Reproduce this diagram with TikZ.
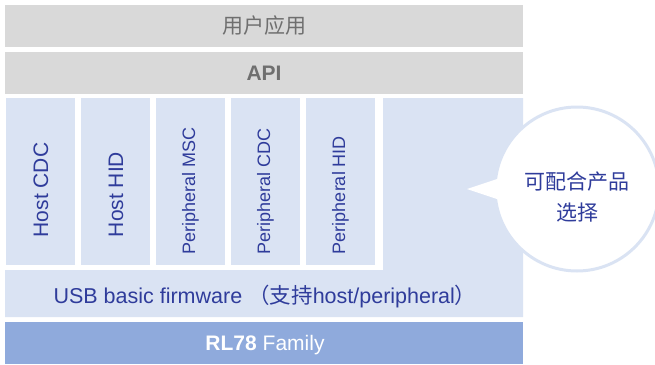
\documentclass[tikz,border=0pt]{standalone}
\usepackage{fontspec}
\setmainfont{Liberation Sans}
\newfontfamily\cjk{Noto Sans CJK SC}
\usetikzlibrary{positioning}

\definecolor{bargrey}{HTML}{D9D9D9}
\definecolor{greytext}{HTML}{6F6F6F}
\definecolor{paleblue}{HTML}{DAE3F3}
\definecolor{midblue}{HTML}{8FAADC}
\definecolor{inkblue}{HTML}{2F3C9B}

\tikzset{
	bar/.style={minimum width=518pt, minimum height=42pt, inner sep=0pt, font=\fontsize{21}{25}\selectfont},
	greybar/.style={bar, fill=bargrey, text=greytext},
	module/.style={fill=paleblue, minimum width=69pt, minimum height=167pt, inner sep=0pt},
	modlabel/.style={rotate=90, text=inkblue, inner sep=0pt},
}

\begin{document}
\begin{tikzpicture}[x=1pt, y=-1pt]
			%%%%% START %%%%%
			\useasboundingbox (0, 0) rectangle (655, 364);
			
			\node[greybar] (app) at (264, 26) {\cjk 用户应用};
			\node[greybar] (api) at (264, 73) {\bfseries API};
			
			% stack of class drivers
			\node[module] (hcdc) at (40.5, 181.5) {};
			\node[module] (hhid) at (115.5, 181.5) {};
			\node[module] (pmsc) at (190.5, 181.5) {};
			\node[module] (pcdc) at (265.5, 181.5) {};
			\node[module] (phid) at (340.5, 181.5) {};
			
			\node[modlabel, font=\fontsize{21}{25}\selectfont] (hcdctext) at (41, 190) {Host CDC};
			\node[modlabel, font=\fontsize{21}{25}\selectfont] (hhidtext) at (116, 194.5) {Host HID};
			\node[modlabel, font=\fontsize{18}{22}\selectfont] (pmsctext) at (190.5, 191) {Peripheral MSC};
			\node[modlabel, font=\fontsize{18}{22}\selectfont] (pcdctext) at (265.5, 191.5) {Peripheral CDC};
			\node[modlabel, font=\fontsize{18}{22}\selectfont] (phidtext) at (340.5, 195) {Peripheral HID};
			
			% basic firmware, L shaped
			\fill[paleblue] (383, 98) -- (523, 98) -- (523, 317) -- (5, 317) -- (5, 270) -- (383, 270) -- cycle;
			\node[text=inkblue, font=\fontsize{21.5}{25}\selectfont] (usb) at (265, 297) {USB basic firmware {\cjk （支持}host/peripheral{\cjk ）}};
			
			\node[bar, fill=midblue] (rl) at (264, 343) {};
			\node[text=white, font=\fontsize{21}{25}\selectfont] (rltext) at (265, 345) {\textbf{RL78} Family};
			
			% callout
			\node[circle, draw=paleblue, line width=3pt, fill=white, minimum size=164pt, inner sep=0pt] (bubble) at (577, 189) {};
			\coordinate (tip) at (467, 189);
			\fill[white] (tip) -- (503, 177) -- (503, 201) -- cycle;
			\node[text=inkblue, align=center, font=\cjk\fontsize{21}{31}\selectfont] (bubbletext) at (577, 197) {可配合产品\\选择};
			
			%%%%% END %%%%%
\end{tikzpicture}
\end{document}
